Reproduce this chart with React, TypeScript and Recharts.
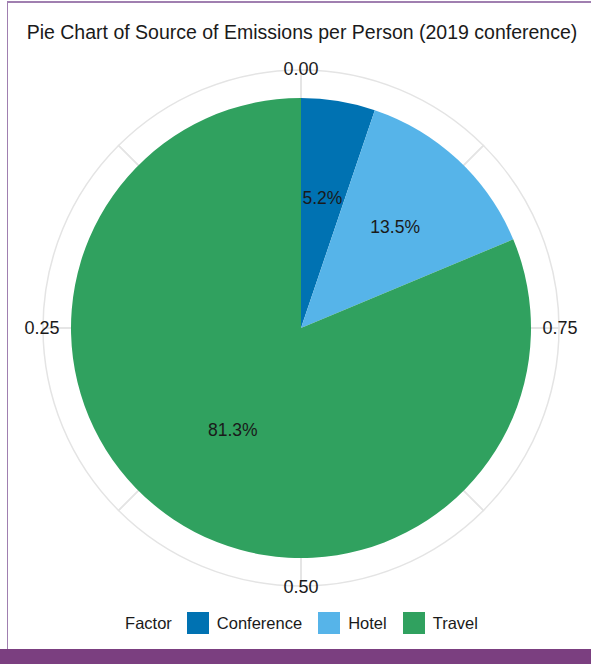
import { PieChart, Pie, Cell, Legend } from 'recharts';

const factors = ['Conference', 'Hotel', 'Travel'];
const shares = [5.2, 13.5, 81.3];
const colors = ['#0072B2', '#56B4E9', '#30A15F'];
const tickLabels = ['0.00', '0.25', '0.50', '0.75'];
const gridSpokes = [1, 1, 1, 1, 1, 1, 1, 1];

const FONT = '"Liberation Sans", Arial, sans-serif';
const RAD = Math.PI / 180;
// label distance from centre, per slice (ggplot placed them a bit unevenly)
const LABEL_R = [132, 138, 123];

const pieData = factors.map((name, i) => ({ name, value: shares[i] }));
const tickData = tickLabels.map((label) => ({ label, value: 1 }));
const spokeData = gridSpokes.map((value, i) => ({ id: i, value }));

function shareLabel(props: any) {
  const { cx, cy, midAngle, index } = props;
  const r = LABEL_R[index];
  const x = cx + r * Math.cos(-midAngle * RAD);
  const y = cy + r * Math.sin(-midAngle * RAD);
  return (
    <text x={x} y={y} textAnchor="middle" dominantBaseline="central" fill="#1a1a1a" fontSize={17.5} fontFamily={FONT}>
      {shares[index].toFixed(1)}%
    </text>
  );
}

function tickLabel(props: any) {
  const { cx, cy, midAngle, index } = props;
  const r = 259;
  const x = cx + r * Math.cos(-midAngle * RAD);
  const y = cy + r * Math.sin(-midAngle * RAD);
  return (
    <text x={x} y={y} textAnchor="middle" dominantBaseline="central" fill="#1a1a1a" fontSize={18} fontFamily={FONT}>
      {tickLabels[index]}
    </text>
  );
}

function FactorLegend() {
  return (
    <div style={{ display: 'flex', alignItems: 'center', justifyContent: 'center', fontFamily: FONT, fontSize: 16.5, color: '#1a1a1a', paddingLeft: 12 }}>
      <span style={{ marginRight: 15 }}>Factor</span>
      {factors.map((name, i) => (
        <span key={name} style={{ display: 'flex', alignItems: 'center', marginLeft: i === 0 ? 0 : 16 }}>
          <span style={{ width: 22, height: 22, background: colors[i], display: 'inline-block', marginRight: 8 }} />
          {name}
        </span>
      ))}
    </div>
  );
}

export default function App() {
  return (
    <div style={{ position: 'fixed', left: 0, top: 0, width: 591, height: 664, background: '#fff', overflow: 'hidden' }}>
      <div style={{ position: 'absolute', left: 7, top: 1, right: 0, height: 2, background: '#a07fb0' }} />
      <div style={{ position: 'absolute', left: 7, top: 1, width: 1, bottom: 0, background: '#a07fb0' }} />
      <div style={{ position: 'absolute', left: 0, top: 649, right: 0, bottom: 0, background: '#7b3f80' }} />
      <div style={{ position: 'absolute', left: 0, top: 21, width: 604, textAlign: 'center', fontFamily: FONT, fontSize: 19.5, color: '#1a1a1a' }}>
        Pie Chart of Source of Emissions per Person (2019 conference)
      </div>
      <div style={{ position: 'absolute', left: 0, top: 0 }}>
        <PieChart width={591} height={648} margin={{ top: 0, right: 0, bottom: 0, left: 0 }}>
          <Pie
            data={spokeData}
            dataKey="value"
            cx={301}
            cy={328}
            outerRadius={258}
            startAngle={90}
            endAngle={450}
            fill="none"
            stroke="#e4e4e4"
            strokeWidth={1.5}
            isAnimationActive={false}
            legendType="none"
          />
          <Pie
            data={tickData}
            dataKey="value"
            cx={301}
            cy={328}
            outerRadius={258}
            startAngle={45}
            endAngle={405}
            fill="none"
            stroke="none"
            label={tickLabel}
            labelLine={false}
            isAnimationActive={false}
            legendType="none"
          />
          <Pie
            data={pieData}
            dataKey="value"
            cx={301}
            cy={328}
            outerRadius={230}
            startAngle={90}
            endAngle={-270}
            stroke="none"
            label={shareLabel}
            labelLine={false}
            isAnimationActive={false}
          >
            {pieData.map((d, i) => (
              <Cell key={d.name} fill={colors[i]} />
            ))}
          </Pie>
          <Legend content={<FactorLegend />} wrapperStyle={{ top: 612, left: 0, width: 591 }} />
        </PieChart>
      </div>
    </div>
  );
}
